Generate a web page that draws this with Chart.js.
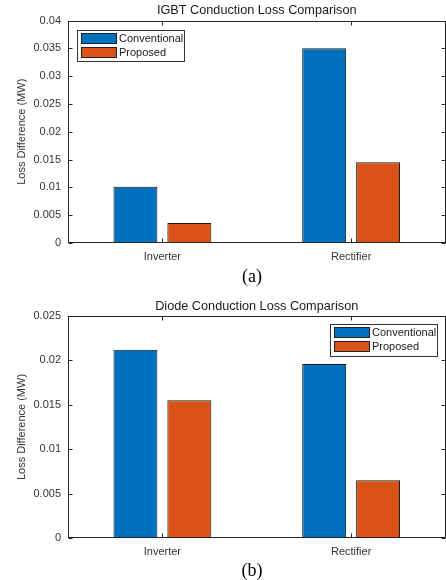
<!DOCTYPE html>
<html><head><meta charset="utf-8">
<script src="https://cdn.jsdelivr.net/npm/chart.js@4.4.0/dist/chart.umd.min.js"></script>
<style>
html,body{margin:0;padding:0;background:#fff;width:446px;height:580px;overflow:hidden;}
.wrap{position:absolute;left:0;width:446px;}
.cap{position:absolute;left:152px;width:200px;text-align:center;font-family:"Liberation Serif","Times New Roman",serif;font-size:18px;line-height:20px;color:#000;}
</style></head><body>
<div class="wrap" style="top:0;height:275px"><canvas id="c1" width="446" height="275"></canvas></div>
<div class="cap" style="top:266px">(a)</div>
<div class="wrap" style="top:290px;height:280px"><canvas id="c2" width="446" height="280"></canvas></div>
<div class="cap" style="top:560px">(b)</div>
<script>
const categories = ['Inverter', 'Rectifier'];
const seriesNames = ['Conventional', 'Proposed'];
const igbtConventional = [0.0101, 0.0350];
const igbtProposed = [0.0036, 0.0145];
const diodeConventional = [0.0212, 0.0196];
const diodeProposed = [0.0155, 0.0065];
const igbtYTicks = ['0', '0.005', '0.01', '0.015', '0.02', '0.025', '0.03', '0.035', '0.04'];
const diodeYTicks = ['0', '0.005', '0.01', '0.015', '0.02', '0.025'];
const yStep = 0.005;
const titles = ['IGBT Conduction Loss Comparison', 'Diode Conduction Loss Comparison'];
const yTitle = 'Loss Difference (MW)';

const BLUE = '#0072BD', ORANGE = '#D95319';
const FONT = '"Liberation Sans", Arial, Helvetica, sans-serif';
const AXC = '#262626';

const boxPlugin = {
  id: 'matlabBox',
  afterDraw(chart, args, opts) {
    const ctx = chart.ctx, a = chart.chartArea;
    const L = Math.round(a.left) + 0.5, R = Math.round(a.right) - 0.5;
    const T = Math.round(a.top) + 0.5, B = Math.round(a.bottom) - 0.5;
    ctx.save();
    // title
    ctx.fillStyle = '#1a1a1a';
    ctx.font = '12.7px ' + FONT;
    ctx.textAlign = 'center';
    ctx.textBaseline = 'middle';
    ctx.fillText(opts.title, (a.left + a.right) / 2, a.top - opts.titleGap);
    // box
    ctx.strokeStyle = AXC;
    ctx.lineWidth = 1;
    ctx.strokeRect(L, T, R - L, B - T);
    // inward ticks
    const tl = 4;
    const ys = chart.scales.y, xs = chart.scales.x;
    ctx.beginPath();
    ys.ticks.forEach(t => {
      const py = Math.round(ys.getPixelForValue(t.value)) + 0.5;
      ctx.moveTo(L, py); ctx.lineTo(L + tl, py);
      ctx.moveTo(R, py); ctx.lineTo(R - tl, py);
    });
    xs.ticks.forEach((t, i) => {
      const px = Math.round(xs.getPixelForValue(i)) + 0.5;
      ctx.moveTo(px, T); ctx.lineTo(px, T + tl);
      ctx.moveTo(px, B); ctx.lineTo(px, B - tl);
    });
    ctx.stroke();
    // legend
    const lg = opts.legend;
    const lx = lg.corner === 'nw' ? Math.round(a.left) + lg.dx : Math.round(a.right) - lg.dx - lg.w;
    const ly = Math.round(a.top) + lg.dy;
    ctx.fillStyle = '#fff';
    ctx.fillRect(lx, ly, lg.w, lg.h);
    ctx.strokeStyle = '#333';
    ctx.strokeRect(lx + 0.5, ly + 0.5, lg.w - 1, lg.h - 1);
    ctx.font = '11px ' + FONT;
    ctx.textAlign = 'left';
    chart.data.datasets.forEach((ds, i) => {
      const sy = ly + 3 + i * 14;
      ctx.fillStyle = ds.backgroundColor;
      ctx.fillRect(lx + 4, sy, 36, 11);
      ctx.strokeStyle = '#222';
      ctx.strokeRect(lx + 4.5, sy + 0.5, 35, 10);
      ctx.fillStyle = '#1a1a1a';
      ctx.fillText(ds.label, lx + 42, sy + 6);
    });
    ctx.restore();
  }
};

function makeChart(id, H, title, conv, prop, yTicks, yMax, top, bottom, legend) {
  return new Chart(document.getElementById(id), {
    type: 'bar',
    data: {
      labels: categories,
      datasets: [
        { label: seriesNames[0], data: conv, backgroundColor: BLUE, borderColor: '#1a1a1a', borderWidth: 1 },
        { label: seriesNames[1], data: prop, backgroundColor: ORANGE, borderColor: '#1a1a1a', borderWidth: 1 }
      ]
    },
    options: {
      responsive: false,
      animation: false,
      layout: { padding: { top: top, right: 0.5, left: 0, bottom: 0 } },
      datasets: { bar: { categoryPercentage: 0.571, barPercentage: 0.815, borderSkipped: 'start' } },
      plugins: {
        legend: { display: false },
        tooltip: { enabled: false },
        title: { display: false },
        matlabBox: { title: title, titleGap: 10, legend: legend }
      },
      scales: {
        x: {
          grid: { display: false, drawTicks: false },
          border: { display: false },
          ticks: { color: '#333', font: { family: FONT, size: 11 }, padding: 7, maxRotation: 0 },
          afterFit: s => { s.height = H - bottom; }
        },
        y: {
          min: 0, max: yMax,
          grid: { display: false, drawTicks: false },
          border: { display: false },
          ticks: {
            stepSize: yStep, color: '#333', font: { family: FONT, size: 11 }, padding: 7,
            callback: v => yTicks[Math.round(v / yStep)]
          },
          title: { display: true, text: yTitle, color: '#333', font: { family: FONT, size: 11 }, padding: { top: 15, bottom: 0 } },
          afterFit: s => { s.width = 68; }
        }
      }
    },
    plugins: [boxPlugin]
  });
}

makeChart('c1', 275, titles[0], igbtConventional, igbtProposed, igbtYTicks, 0.04, 20.5, 243,
  { corner: 'nw', dx: 9, dy: 9, w: 108, h: 32 });
makeChart('c2', 280, titles[1], diodeConventional, diodeProposed, diodeYTicks, 0.025, 26, 248,
  { corner: 'ne', dx: 8, dy: 8, w: 108, h: 33 });
</script>
</body></html>
